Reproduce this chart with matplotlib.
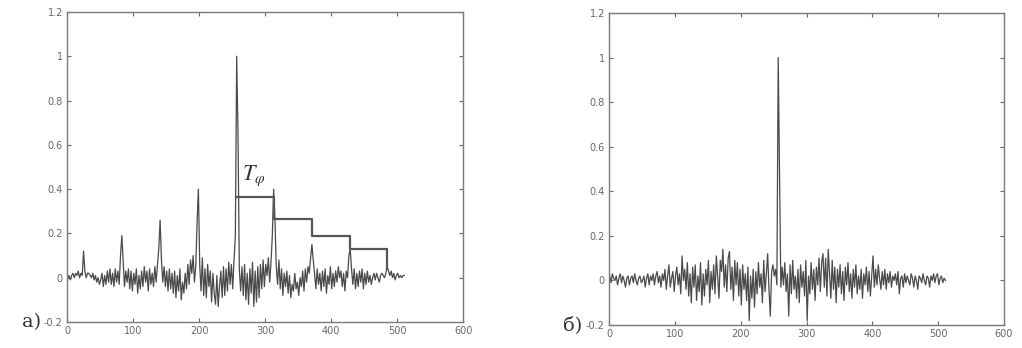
import matplotlib
matplotlib.use("Agg")
import matplotlib.pyplot as plt
import numpy as np

plt.rcParams["mathtext.fontset"] = "stix"

# sample lag (every second sample)
lags = np.arange(1, 512, 2)

# panel а) - periodic signal, autocorrelation
acf_a = [
    0.0, 0.01, -0.01, 0.01, 0.02, 0.0, 0.02, 0.01, 0.03, 0.0, 0.02, 0.01, 0.12, 0.03, 0.0, 0.02,
    0.02, 0.01, 0.0, 0.02, -0.01, 0.01, -0.02, 0.0, -0.03, -0.01, 0.02, -0.04, 0.01, -0.03, 0.03, -0.02,
    0.04, -0.03, 0.02, -0.04, 0.04, -0.02, 0.03, -0.03, 0.10, 0.19, 0.07, -0.04, 0.03, -0.02, 0.04, -0.05,
    0.03, -0.06, 0.02, -0.03, 0.04, -0.07, 0.01, -0.05, 0.03, -0.04, 0.05, -0.02, 0.03, -0.06, 0.04, -0.03,
    0.02, -0.04, 0.05, -0.02, 0.06, 0.13, 0.26, 0.08, -0.02, 0.05, -0.04, 0.03, -0.06, 0.04, -0.05, 0.02,
    -0.07, 0.03, -0.09, 0.01, -0.06, 0.04, -0.10, -0.02, -0.07, 0.02, -0.05, 0.06, -0.03, 0.08, 0.02, 0.10,
    -0.02, 0.05, 0.25, 0.40, 0.06, -0.06, 0.09, -0.08, 0.04, -0.09, 0.06, -0.04, 0.03, -0.11, 0.02, -0.07,
    -0.12, 0.01, -0.13, -0.04, 0.03, -0.09, 0.05, -0.08, 0.04, -0.06, 0.07, -0.03, 0.06, -0.05, 0.08, 0.19,
    1.0, 0.65, 0.04, -0.06, 0.05, -0.08, 0.06, -0.10, 0.02, -0.12, 0.04, -0.07, 0.07, -0.13, 0.03, -0.11,
    0.05, -0.09, 0.06, -0.05, 0.08, -0.04, 0.06, 0.01, 0.09, -0.02, 0.07, 0.19, 0.40, 0.26, 0.05, -0.03,
    0.08, -0.05, 0.04, -0.08, 0.02, -0.04, 0.03, -0.07, 0.01, -0.09, -0.03, -0.06, 0.02, -0.05, -0.02, -0.08,
    0.0, -0.04, 0.03, -0.06, 0.04, -0.02, 0.05, 0.02, 0.09, 0.15, 0.08, 0.02, -0.05, 0.04, -0.03, 0.02,
    -0.06, 0.03, -0.04, 0.04, -0.07, 0.01, -0.03, 0.05, -0.05, 0.02, -0.04, 0.03, -0.02, 0.05, 0.0, 0.03,
    -0.04, 0.02, -0.06, 0.03, 0.0, 0.10, 0.13, 0.04, -0.03, 0.04, -0.05, 0.02, -0.04, 0.03, -0.02, 0.04,
    -0.05, 0.02, -0.03, 0.03, -0.02, 0.01, -0.03, 0.0, 0.02, -0.01, 0.02, 0.0, -0.02, 0.01, 0.02, 0.01,
    0.0, 0.02, 0.05, 0.03, 0.01, 0.03, 0.0, 0.02, -0.01, 0.01, 0.02, 0.0, 0.01, 0.0, 0.01, 0.01,
]

# panel б) - noise-like signal, autocorrelation
acf_b = [
    0.02, -0.01, 0.03, 0.01, 0.0, 0.02, -0.02, 0.01, 0.03, -0.01, 0.02, 0.0, -0.03, 0.01, 0.02, -0.02,
    0.01, 0.02, -0.01, 0.03, 0.0, -0.02, 0.01, 0.02, -0.01, 0.0, 0.02, -0.03, 0.01, 0.03, -0.02, 0.02,
    0.0, 0.03, -0.02, 0.02, 0.04, -0.01, 0.02, -0.03, 0.03, 0.0, 0.05, -0.04, 0.02, 0.07, -0.03, 0.01,
    0.04, -0.05, 0.02, 0.06, -0.02, 0.03, -0.06, 0.11, 0.0, 0.05, -0.04, 0.08, -0.07, 0.03, -0.10, 0.06,
    -0.03, 0.07, -0.09, 0.02, -0.05, 0.08, -0.11, 0.03, -0.07, 0.05, -0.02, 0.09, -0.10, 0.04, -0.04, 0.07,
    -0.06, 0.11, 0.02, -0.08, 0.09, 0.04, 0.14, -0.03, 0.07, -0.05, 0.10, 0.13, -0.04, 0.06, -0.09, 0.09,
    -0.02, 0.08, -0.07, 0.05, -0.11, 0.07, -0.04, 0.03, -0.09, 0.06, -0.18, 0.02, -0.08, 0.05, -0.12, 0.04,
    -0.06, 0.08, -0.03, 0.03, -0.10, 0.09, -0.05, 0.03, 0.12, -0.04, -0.16, 0.04, 0.07, 0.02, 0.05, -0.02,
    1.0, 0.5, -0.03, 0.06, -0.02, 0.08, -0.05, 0.03, -0.16, 0.07, -0.06, 0.09, -0.04, 0.02, -0.08, 0.05,
    -0.10, 0.07, -0.03, 0.04, -0.07, 0.09, -0.18, 0.02, -0.06, 0.08, -0.04, 0.05, -0.09, 0.06, -0.02, 0.10,
    -0.05, 0.08, 0.12, -0.03, 0.10, -0.07, 0.14, 0.03, -0.08, 0.09, -0.04, 0.06, -0.10, 0.05, -0.03, 0.07,
    -0.06, 0.04, -0.09, 0.06, -0.02, 0.08, -0.05, 0.03, -0.08, 0.05, -0.03, 0.07, -0.06, 0.02, -0.04, 0.05,
    -0.08, 0.03, -0.02, 0.06, -0.05, 0.04, -0.07, 0.02, 0.11, -0.03, 0.05, -0.02, 0.07, 0.01, -0.04, 0.04,
    -0.02, 0.05, -0.04, 0.03, -0.01, 0.04, -0.03, 0.02, 0.0, 0.03, -0.02, 0.04, -0.06, 0.01, 0.02, -0.03,
    0.03, -0.01, 0.02, 0.0, -0.02, 0.03, 0.01, -0.03, 0.02, 0.0, -0.04, 0.02, 0.01, -0.01, 0.03, 0.0,
    -0.02, 0.02, 0.01, -0.03, 0.02, 0.0, 0.03, -0.01, 0.02, 0.03, -0.02, 0.01, 0.02, -0.01, 0.01, 0.0,
]

# period staircase (T_phi) on panel а)
period_lags = [257, 313, 371, 429, 485]
period_levels = [0.366, 0.263, 0.188, 0.129, 0.046]

xticks = [0, 100, 200, 300, 400, 500, 600]
yticks = [-0.2, 0, 0.2, 0.4, 0.6, 0.8, 1, 1.2]
ytick_labels = ["-0.2", "0", "0.2", "0.4", "0.6", "0.8", "1", "1.2"]

LINE = "#4a4a4a"
FRAME = "#7a7a7a"


def style_axes(ax):
    ax.set_xlim(0, 600)
    ax.set_ylim(-0.2, 1.2)
    ax.set_xticks(xticks)
    ax.set_yticks(yticks)
    ax.set_yticklabels(ytick_labels)
    ax.tick_params(direction="in", top=True, right=True, length=3, width=0.8,
                   labelsize=7, colors="#666666", pad=3)
    for sp in ax.spines.values():
        sp.set_color(FRAME)
        sp.set_linewidth(1.0)


fig = plt.figure(figsize=(10.22, 3.48), dpi=100)
ax1 = fig.add_axes([0.0656, 0.0747, 0.3875, 0.891])
ax2 = fig.add_axes([0.5959, 0.066, 0.3865, 0.8966])

ax1.plot(lags, acf_a, color=LINE, linewidth=0.9)
# staircase: horizontal run at each level from one period peak to the next
sx, sy = [], []
for i in range(len(period_lags) - 1):
    sx += [period_lags[i], period_lags[i + 1]]
    sy += [period_levels[i], period_levels[i]]
sx.append(period_lags[-1])
sy.append(period_levels[-1])
ax1.plot(sx, sy, color="#555555", linewidth=1.6)
ax1.text(283, 0.46, r"$T_\varphi$", fontsize=16,
         ha="center", va="center", color="#333333")
style_axes(ax1)

ax2.plot(lags, acf_b, color=LINE, linewidth=0.9)
style_axes(ax2)

fig.text(0.022, 0.075, "а)", fontsize=14, family="serif", color="#333333",
         ha="left", va="center")
fig.text(0.551, 0.066, "б)", fontsize=14, family="serif", color="#333333",
         ha="left", va="center")

fig.savefig("out.png", dpi=100)
plt.close(fig)
